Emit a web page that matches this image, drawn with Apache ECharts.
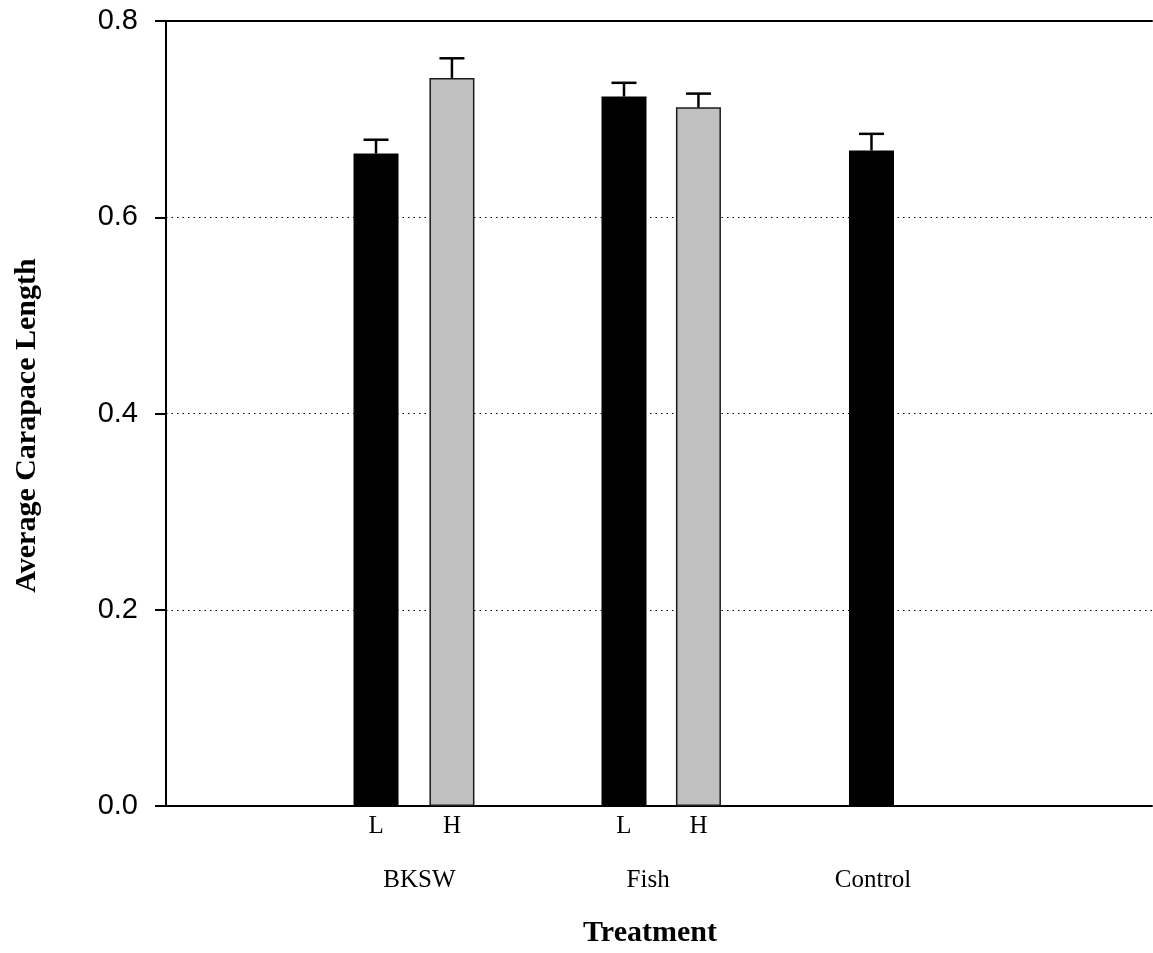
<!DOCTYPE html>
<html>
<head>
<meta charset="utf-8">
<script src="https://cdn.jsdelivr.net/npm/echarts@6/dist/echarts.min.js"></script>
<style>
  html, body { margin: 0; padding: 0; background: #fff; }
  #chart { width: 1153px; height: 953px; }
</style>
</head>
<body>
<div id="chart"></div>
<script>
// bar positions on a 0..100 x scale, level labels and group labels
var barPos = [21.3, 29.0, 46.45, 54.0, 71.55];
var barLevel = ['L', 'H', 'L', 'H', ''];
var barValue = [0.665, 0.742, 0.723, 0.712, 0.668];
var barError = [0.014, 0.020, 0.014, 0.014, 0.017];
var barKind = ['low', 'high', 'low', 'high', 'low'];
var groupPos = [25.7, 48.9, 71.7];
var groupName = ['BKSW', 'Fish', 'Control'];
var yTicks = [0, 0.2, 0.4, 0.6, 0.8];

var SERIF = "'Liberation Serif', 'Times New Roman', serif";
var SANS = "'Liberation Sans', Arial, sans-serif";

var chartDom = echarts.init(document.getElementById('chart'));

function labelFor(list, names) {
  return function (v) {
    for (var i = 0; i < list.length; i++) {
      if (Math.abs(list[i] - v) < 1e-6) return names[i];
    }
    return '';
  };
}

var barData = barPos.map(function (x, i) {
  var gray = barKind[i] === 'high';
  return {
    value: [x, barValue[i]],
    itemStyle: {
      color: gray ? '#c0c0c0' : '#000',
      borderColor: gray ? '#1a1a1a' : '#000',
      borderWidth: gray ? 1.5 : 0
    }
  };
});

var errData = barPos.map(function (x, i) {
  return [x, barValue[i], barValue[i] + barError[i]];
});

var option = {
  backgroundColor: '#fff',
  animation: false,
  grid: { left: 166, right: 1, top: 21, bottom: 144, containLabel: false },
  xAxis: [
    {
      type: 'value', min: 0, max: 100, position: 'bottom',
      axisLine: { show: true, lineStyle: { color: '#000', width: 2 } },
      axisTick: { show: false },
      splitLine: { show: false },
      axisLabel: {
        customValues: barPos,
        formatter: labelFor(barPos, barLevel),
        margin: 8,
        fontFamily: SERIF, fontSize: 25, color: '#000'
      },
      name: 'Treatment',
      nameLocation: 'middle',
      nameGap: 112,
      nameTextStyle: {
        fontFamily: SERIF, fontSize: 30, fontWeight: 'bold', color: '#000',
        padding: [0, 18, 0, 0]
      }
    },
    {
      type: 'value', min: 0, max: 100, position: 'bottom',
      axisLine: { show: false },
      axisTick: { show: false },
      splitLine: { show: false },
      axisLabel: {
        customValues: groupPos,
        formatter: labelFor(groupPos, groupName),
        margin: 62,
        fontFamily: SERIF, fontSize: 25, color: '#000'
      }
    },
    {
      type: 'value', min: 0, max: 100, position: 'top',
      axisLine: { show: true, lineStyle: { color: '#000', width: 2 } },
      axisTick: { show: false },
      axisLabel: { show: false },
      splitLine: { show: false }
    }
  ],
  yAxis: {
    type: 'value', min: 0, max: 0.8, interval: 0.2,
    axisLine: { show: true, lineStyle: { color: '#000', width: 2 } },
    axisTick: { show: true, inside: false, length: 11, lineStyle: { color: '#000', width: 2 } },
    axisLabel: {
      margin: 28,
      fontFamily: SANS, fontSize: 29, color: '#000',
      formatter: function (v) { return v.toFixed(1); }
    },
    splitLine: { show: true, lineStyle: { color: '#000', width: 1, type: [1.5, 4] } },
    name: 'Average Carapace Length',
    nameLocation: 'middle',
    nameGap: 124,
    nameTextStyle: {
      fontFamily: SERIF, fontSize: 30, fontWeight: 'bold', color: '#000',
      padding: [0, 24, 0, 0]
    }
  },
  series: [
    {
      type: 'bar',
      xAxisIndex: 0,
      barWidth: 45,
      data: barData,
      z: 3
    },
    {
      type: 'custom',
      xAxisIndex: 0,
      z: 4,
      data: errData,
      renderItem: function (params, api) {
        var base = api.coord([api.value(0), api.value(1)]);
        var top = api.coord([api.value(0), api.value(2)]);
        var half = 12.5;
        var style = { stroke: '#000', lineWidth: 2.5 };
        return {
          type: 'group',
          children: [
            { type: 'line', shape: { x1: base[0], y1: base[1], x2: top[0], y2: top[1] }, style: style },
            { type: 'line', shape: { x1: top[0] - half, y1: top[1], x2: top[0] + half, y2: top[1] }, style: style }
          ]
        };
      }
    }
  ]
};

chartDom.setOption(option);
</script>
</body>
</html>
